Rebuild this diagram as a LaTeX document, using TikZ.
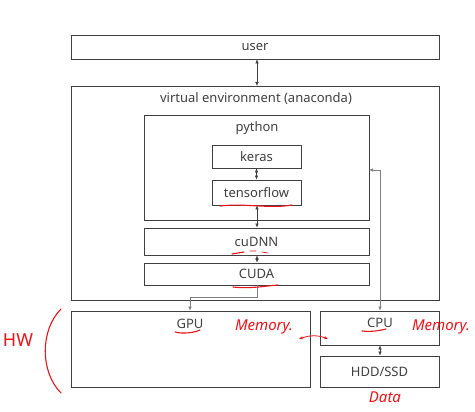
\documentclass[tikz,border=0pt]{standalone}
\usepackage{fontspec}
\setmainfont{Noto Sans}
\usetikzlibrary{arrows.meta}
\definecolor{ln}{HTML}{404040}
\definecolor{ink}{HTML}{E8141A}
\tikzset{
  lbl/.style={text=ln, font=\fontsize{13}{14}\selectfont, inner sep=0pt},
  layer/.style={draw=ln, line width=0.8pt, fill=white, inner sep=0pt, font=\fontsize{13}{14}\selectfont, text=ln},
  link/.style={draw=ln, line width=0.5pt, {Latex[length=4pt,width=3.5pt]}-{Latex[length=4pt,width=3.5pt]}},
  glink/.style={draw=gray, line width=0.6pt},
  redpen/.style={draw=ink, line width=1.1pt, line cap=round},
  redtext/.style={text=ink, font=\itshape\fontsize{15}{16}\selectfont, inner sep=0pt}
}
\begin{document}
\begin{tikzpicture}[x=1pt,y=-1pt]
\useasboundingbox (0,0) rectangle (475,412);
% boxes
\node[layer, minimum width=368pt, minimum height=24pt] (user) at (255,47) {user};
\draw[ln, line width=0.8pt] (71,86) rectangle (439,300);
\coordinate (venvtop) at (257,86);
\node[lbl] (venv) at (256,99) {virtual environment (anaconda)};
\draw[ln, line width=0.8pt] (144,115) rectangle (369,220);
\coordinate (pyright) at (369,170);
\node[lbl] (python) at (257,128) {python};
\node[layer, minimum width=89pt, minimum height=23pt] (keras) at (256.5,156.5) {keras};
\node[layer, minimum width=89pt, minimum height=25pt] (tf) at (256.5,192.5) {tensorflow};
\coordinate (pybottom) at (257,220);
\node[layer, minimum width=225pt, minimum height=27pt] (cudnn) at (256.5,241.5) {cuDNN};
\node[layer, minimum width=225pt, minimum height=22pt] (cuda) at (256.5,274) {CUDA};
\node[layer, minimum width=239pt, minimum height=76pt] (gpu) at (190.5,349) {};
\node[lbl] (gputxt) at (190,324) {GPU};
\node[layer, minimum width=119pt, minimum height=34pt] (cpu) at (379.5,328) {};
\node[lbl] (cputxt) at (380,323) {CPU};
\node[layer, minimum width=119pt, minimum height=31pt] (hdd) at (379.5,371.5) {HDD/SSD};
% connectors
\draw[link] (user.south -| venvtop) -- (venvtop);
\draw[link] (keras) -- (tf);
\draw[link] (tf.south -| pybottom) -- (cudnn.north -| pybottom);
\draw[link] (cudnn.south -| pybottom) -- (cuda.north -| pybottom);
\draw[glink, -{Latex[length=4pt,width=3.5pt]}] (cuda.south -| pybottom) -- (257,297) -- (190,297) -- (gpu.north -| gputxt);
\draw[glink, {Latex[length=4pt,width=3.5pt]}-{Latex[length=4pt,width=3.5pt]}] (pyright) -- (380,170) -- (cpu.north -| cputxt);
\draw[link] (cpu.south -| cputxt) -- (hdd.north -| cputxt);
% red annotations
\draw[redpen] (220,206) .. controls (245,203) and (270,209) .. (292,205);
\draw[redpen] (232,254) -- (244,252);
\draw[redpen, line width=0.7pt] (250,251) -- (256,251) (262,252) -- (268,253);
\draw[redpen] (233,287) .. controls (250,289) and (265,286) .. (278,285);
\draw[redpen] (175,332) .. controls (182,334) and (194,333) .. (200,330);
\draw[redpen] (362,331) .. controls (370,332) and (378,331) .. (386,329);
\draw[redpen] (61,309) .. controls (40,330) and (40,372) .. (61,393);
\node[text=ink, inner sep=0pt, font=\fontsize{18}{20}\selectfont] (hw) at (18,340) {HW};
\node[redtext] (mem1) at (264,327) {Memory.};
\node[redtext] (mem2) at (441,327) {Memory.};
\node[redtext] (data) at (385,397) {Data};
\draw[redpen, line width=0.8pt, {Stealth[length=4pt]}-{Stealth[length=4pt]}] (299,339) .. controls (310,335) and (318,335) .. (328,339);
\end{tikzpicture}
\end{document}
